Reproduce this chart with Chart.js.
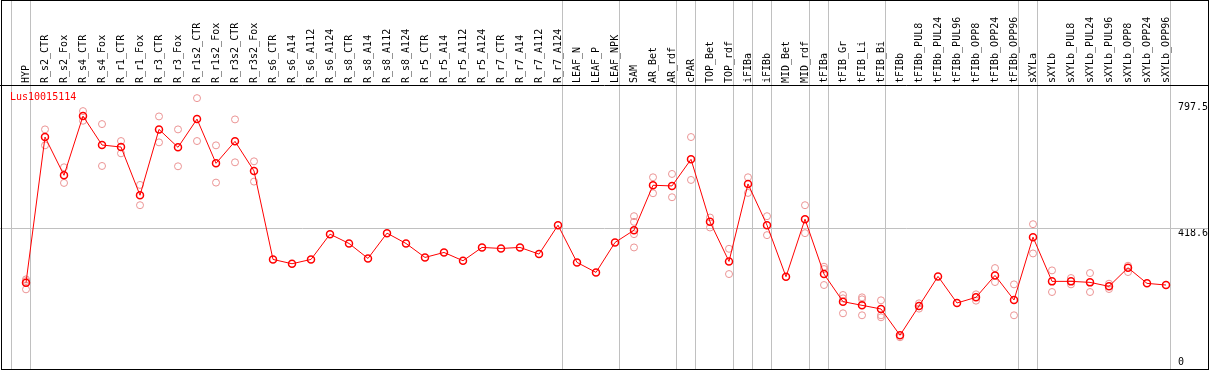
<!DOCTYPE html>
<html>
<head>
<meta charset="utf-8">
<title>Lus10015114</title>
<script src="https://cdn.jsdelivr.net/npm/chart.js@4.4.1/dist/chart.umd.min.js"></script>
<style>
body { margin: 0; background: #fff; }
canvas { display: block; }
</style>
</head>
<body>
<canvas id="exprChart" width="1209" height="370"></canvas>
<script>
// Expression profile data

const geneName = "Lus10015114"

const samples = [
	"HYP", "R_s2_CTR", "R_s2_Fox", "R_s4_CTR", "R_s4_Fox", "R_r1_CTR", "R_r1_Fox",
	"R_r3_CTR", "R_r3_Fox", "R_r1s2_CTR", "R_r1s2_Fox", "R_r3s2_CTR", "R_r3s2_Fox",
	"R_s6_CTR", "R_s6_A14", "R_s6_A112", "R_s6_A124", "R_s8_CTR", "R_s8_A14", "R_s8_A112", "R_s8_A124",
	"R_r5_CTR", "R_r5_A14", "R_r5_A112", "R_r5_A124", "R_r7_CTR", "R_r7_A14", "R_r7_A112", "R_r7_A124",
	"LEAF_N", "LEAF_P", "LEAF_NPK", "SAM", "AR_Bet", "AR_rdf", "cPAR", "TOP_Bet", "TOP_rdf",
	"iFIBa", "iFIBb", "MID_Bet", "MID_rdf", "tFIBa", "tFIB_Gr", "tFIB_Li", "tFIB_Bi",
	"tFIBb", "tFIBb_PUL8", "tFIBb_PUL24", "tFIBb_PUL96", "tFIBb_OPP8", "tFIBb_OPP24", "tFIBb_OPP96",
	"sXYLa", "sXYLb", "sXYLb_PUL8", "sXYLb_PUL24", "sXYLb_PUL96", "sXYLb_OPP8", "sXYLb_OPP24", "sXYLb_OPP96"
];

// mean of replicates
const means = [
	255, 693, 578, 756, 669, 663, 518, 716, 662, 747, 614, 680, 591,
	325, 312, 325, 401, 373, 328, 404, 373,
	331, 346, 321, 361, 358, 361, 341, 428,
	316, 286, 376, 413, 548, 546, 626, 438, 319,
	552, 428, 273, 446, 281, 198, 187, 176,
	97, 185, 274, 194, 211, 277, 203,
	392, 259, 259, 256, 244, 300, 253, 248
];

// single replicate values (only where they stand out from the mean)
const replicates = [
	[265, 260, 235], [716, 668], [602, 555], [771, 742], [732, 606], [681, 644], [549, 488],
	[755, 677], [716, 605], [810, 681], [668, 556], [746, 617], [620, 559],
	[], [], [], [], [], [], [], [],
	[], [], [], [], [], [], [], [],
	[], [], [], [455, 438, 401, 361], [572, 524], [582, 512], [693, 564], [451, 421], [357, 281],
	[572, 525], [455, 398], [], [488, 404], [303, 296, 248], [218, 208, 163], [211, 205, 157], [202, 157, 151],
	[91], [193, 177], [], [], [220, 201], [299, 257], [250, 157],
	[431, 343], [292, 227], [269, 250], [284, 227], [252, 236], [306, 287], [], []
];

const yTicks = [0, 418.6, 797.5];
const midLine = 418.6;

// a grey separator is drawn right after each of these samples
const groupEnds = [
	"HYP", "R_r7_A124", "LEAF_NPK", "AR_rdf", "cPAR", "TOP_rdf", "iFIBa", "iFIBb",
	"MID_rdf", "tFIBa", "tFIB_Bi", "tFIBb_OPP96", "sXYLa", "sXYLb_OPP96"
];

const monoFont = "'DejaVu Sans Mono', monospace";


// Build replicate points

let repPoints = [];
replicates.forEach((vals, i) => {
	vals.forEach(v => repPoints.push({ x: samples[i], y: v }));
});


// Frame, separators and gene name

const framePlugin = {
	id: "frame",
	beforeDatasetsDraw(chart) {
		const ctx = chart.ctx;
		const xs = chart.scales.x;
		const ys = chart.scales.y;
		const step = xs.getPixelForValue(1) - xs.getPixelForValue(0);
		ctx.save();
		ctx.strokeStyle = "#c0c0c0";
		ctx.lineWidth = 1;
		ctx.beginPath();
		// line before the first sample
		let x0 = Math.round(xs.getPixelForValue(0) - step + step * 0.2) + 0.5;
		ctx.moveTo(x0, 0);
		ctx.lineTo(x0, chart.height);
		groupEnds.forEach(name => {
			let x = Math.round(xs.getPixelForValue(samples.indexOf(name)) + step * 0.2) + 0.5;
			ctx.moveTo(x, 0);
			ctx.lineTo(x, chart.height);
		});
		let y = Math.round(ys.getPixelForValue(midLine)) + 0.5;
		ctx.moveTo(0, y);
		ctx.lineTo(chart.width, y);
		ctx.stroke();
		ctx.restore();
	},
	afterDraw(chart) {
		const ctx = chart.ctx;
		const area = chart.chartArea;
		ctx.save();
		ctx.strokeStyle = "#000";
		ctx.lineWidth = 1;
		ctx.strokeRect(1.5, 0.5, chart.width - 2, chart.height - 1);
		ctx.beginPath();
		ctx.moveTo(0, area.top + 0.5);
		ctx.lineTo(chart.width, area.top + 0.5);
		ctx.stroke();
		ctx.fillStyle = "#ff0000";
		ctx.font = "10px " + monoFont;
		ctx.textBaseline = "middle";
		ctx.fillText(geneName, 10, area.top + 12);
		ctx.restore();
	}
};


// Chart

const ctx = document.getElementById("exprChart").getContext("2d");
new Chart(ctx, {
	type: "line",
	data: {
		labels: samples,
		datasets: [
			{
				label: "mean",
				data: means,
				borderColor: "#ff0000",
				borderWidth: 1,
				pointRadius: 3.5,
				pointBorderWidth: 1.5,
				pointBorderColor: "#ff0000",
				pointBackgroundColor: "rgba(0,0,0,0)",
				tension: 0,
				order: 1
			},
			{
				label: "replicates",
				data: repPoints,
				showLine: false,
				pointRadius: 3.5,
				pointBorderWidth: 1,
				pointBorderColor: "#eb9494",
				pointBackgroundColor: "rgba(0,0,0,0)",
				order: 2
			}
		]
	},
	options: {
		responsive: false,
		animation: false,
		layout: {
			autoPadding: false,
			padding: { left: 26, right: 0, top: 0, bottom: 1 }
		},
		plugins: {
			legend: { display: false },
			title: { display: false },
			tooltip: { enabled: false }
		},
		scales: {
			x: {
				type: "category",
				position: "top",
				offset: false,
				grid: { display: false, drawTicks: false },
				border: { display: false },
				ticks: {
					autoSkip: false,
					minRotation: 90,
					maxRotation: 90,
					padding: 2,
					labelOffset: 12,
					color: "#000",
					font: { family: monoFont, size: 10 }
				},
				afterFit: scale => { scale.height = 85; }
			},
			y: {
				type: "linear",
				position: "right",
				min: -4.5,
				max: 849.5,
				grid: { display: false, drawTicks: false },
				border: { display: false },
				afterBuildTicks: scale => { scale.ticks = yTicks.map(v => ({ value: v })); },
				afterFit: scale => {
					scale.width = 43;
					scale.paddingTop = 0;
					scale.paddingBottom = 0;
				},
				ticks: {
					padding: 12,
					color: "#000",
					font: { family: monoFont, size: 10, lineHeight: 1 },
					// 0 sits above its value, the others hang below it
					callback: v => v === 0 ? ["0", ""] : ["", String(v)]
				}
			}
		}
	},
	plugins: [framePlugin]
});
</script>
</body>
</html>
